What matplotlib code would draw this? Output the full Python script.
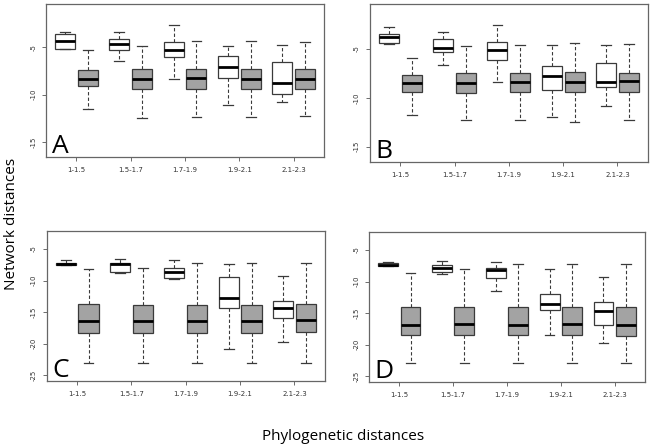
"""
系統距離ごとのネットワーク距離を箱ひげ図で描くスクリプト
"""

import matplotlib
import matplotlib.pyplot as plt

matplotlib.use("Agg")  # GUIバックエンドを使用しない

# カテゴリ（系統距離の区間）
groups = ["1-1.5", "1.5-1.7", "1.7-1.9", "1.9-2.1", "2.1-2.3"]

# 各箱: [下ひげ, 第1四分位, 中央値, 第3四分位, 上ひげ]
a_white = [
    [-5.2, -5.17, -4.27, -3.6, -3.36],
    [-6.42, -5.24, -4.64, -4.12, -3.4],
    [-8.3, -6.0, -5.27, -4.44, -2.64],
    [-11.07, -8.19, -7.04, -5.93, -4.85],
    [-10.76, -9.93, -8.75, -6.56, -4.72],
]
a_gray = [
    [-11.56, -9.13, -8.33, -7.43, -5.24],
    [-12.43, -9.44, -8.33, -7.29, -4.9],
    [-12.4, -9.37, -8.26, -7.29, -4.3],
    [-12.32, -9.35, -8.3, -7.29, -4.3],
    [-12.22, -9.35, -8.33, -7.3, -4.38],
]
b_white = [
    [-4.45, -4.38, -3.72, -3.41, -2.76],
    [-6.66, -5.31, -4.86, -4.0, -3.28],
    [-8.38, -6.1, -5.1, -4.31, -2.52],
    [-11.93, -9.17, -7.72, -6.76, -4.55],
    [-10.86, -8.86, -8.34, -6.45, -4.55],
]
b_gray = [
    [-11.76, -9.38, -8.52, -7.69, -5.9],
    [-12.31, -9.55, -8.52, -7.48, -4.66],
    [-12.28, -9.45, -8.41, -7.41, -4.62],
    [-12.45, -9.45, -8.38, -7.38, -4.34],
    [-12.28, -9.38, -8.31, -7.41, -4.48],
]
c_white = [
    [-7.6, -7.57, -7.36, -7.2, -6.73],
    [-8.87, -8.61, -7.46, -7.25, -6.62],
    [-9.76, -9.55, -8.66, -7.98, -6.83],
    [-20.81, -14.27, -12.75, -9.4, -7.36],
    [-19.76, -16.0, -14.32, -13.17, -9.29],
]
c_gray = [
    [-23.06, -18.25, -16.36, -13.69, -8.19],
    [-23.06, -18.25, -16.36, -13.8, -8.04],
    [-23.06, -18.25, -16.36, -13.85, -7.2],
    [-23.06, -18.25, -16.36, -13.8, -7.2],
    [-23.06, -18.19, -16.31, -13.74, -7.2],
]
d_white = [
    [-7.5, -7.5, -7.34, -7.14, -6.93],
    [-8.85, -8.44, -7.81, -7.34, -6.72],
    [-11.46, -9.38, -8.23, -7.92, -6.88],
    [-18.39, -14.53, -13.49, -11.93, -8.02],
    [-19.74, -16.88, -14.69, -13.28, -9.27],
]
d_gray = [
    [-22.97, -18.54, -16.82, -14.01, -8.65],
    [-22.97, -18.54, -16.67, -13.96, -7.97],
    [-22.97, -18.54, -16.82, -13.96, -7.29],
    [-22.97, -18.54, -16.77, -13.96, -7.19],
    [-22.97, -18.65, -16.82, -13.96, -7.29],
]


def to_stats(rows):
    """bxp 用の統計量リストに変換"""
    return [
        {"whislo": r[0], "q1": r[1], "med": r[2], "q3": r[3], "whishi": r[4], "fliers": []}
        for r in rows
    ]


def draw_panel(ax, white, gray, letter, ylim, yticks):
    """1パネル分の箱ひげ図"""
    x = list(range(len(groups)))
    edge = "#3a3a3a"
    common = dict(
        widths=0.37,
        capwidths=0.18,
        showfliers=False,
        patch_artist=True,
        whiskerprops=dict(color=edge, linewidth=0.8, linestyle=(0, (3, 2))),
        capprops=dict(color=edge, linewidth=0.9),
        medianprops=dict(color="black", linewidth=2.0),
        manage_ticks=False,
    )
    ax.bxp(to_stats(white), positions=[p - 0.21 for p in x],
           boxprops=dict(facecolor="white", edgecolor=edge, linewidth=0.9), **common)
    ax.bxp(to_stats(gray), positions=[p + 0.21 for p in x],
           boxprops=dict(facecolor="#a3a3a3", edgecolor=edge, linewidth=0.9), **common)

    ax.set_xlim(-0.56, 4.56)
    ax.set_ylim(*ylim)
    ax.set_xticks(x)
    ax.set_xticklabels(groups, fontsize=5, color="#333333")
    ax.set_yticks(yticks)
    ax.set_yticklabels([str(t) for t in yticks], fontsize=5, rotation=90,
                       va="center", color="#333333")
    ax.tick_params(length=3, width=0.6, color="#555555", pad=4)
    for s in ax.spines.values():
        s.set_color("#666666")
        s.set_linewidth(0.9)

    # パネル記号
    ax.text(0.02, 0.025, letter, transform=ax.transAxes, fontsize=19,
            family="Open Sans", ha="left", va="baseline")


def create_graph():
    fig = plt.figure(figsize=(6.5, 4.48), dpi=100)

    ax_a = fig.add_axes([0.0708, 0.6496, 0.4277, 0.3415])
    ax_b = fig.add_axes([0.569, 0.638, 0.4277, 0.3527])
    ax_c = fig.add_axes([0.0718, 0.1496, 0.428, 0.3355])
    ax_d = fig.add_axes([0.5677, 0.1478, 0.4246, 0.3348])

    top_ticks = [-5, -10, -15]
    bottom_ticks = [-5, -10, -15, -20, -25]
    draw_panel(ax_a, a_white, a_gray, "A", (-16.6, -0.4), top_ticks)
    draw_panel(ax_b, b_white, b_gray, "B", (-16.6, -0.4), top_ticks)
    draw_panel(ax_c, c_white, c_gray, "C", (-25.88, -2.12), bottom_ticks)
    draw_panel(ax_d, d_white, d_gray, "D", (-25.88, -2.12), bottom_ticks)

    # 共通の軸ラベル
    fig.text(0.018, 0.5, "Network distances", rotation=90, ha="center",
             va="center", fontsize=11, family="Open Sans")
    fig.text(0.528, 0.025, "Phylogenetic distances", ha="center",
             va="center", fontsize=11, family="Open Sans")

    fig.savefig("out.png", dpi=100)
    plt.close(fig)


if __name__ == "__main__":
    create_graph()
